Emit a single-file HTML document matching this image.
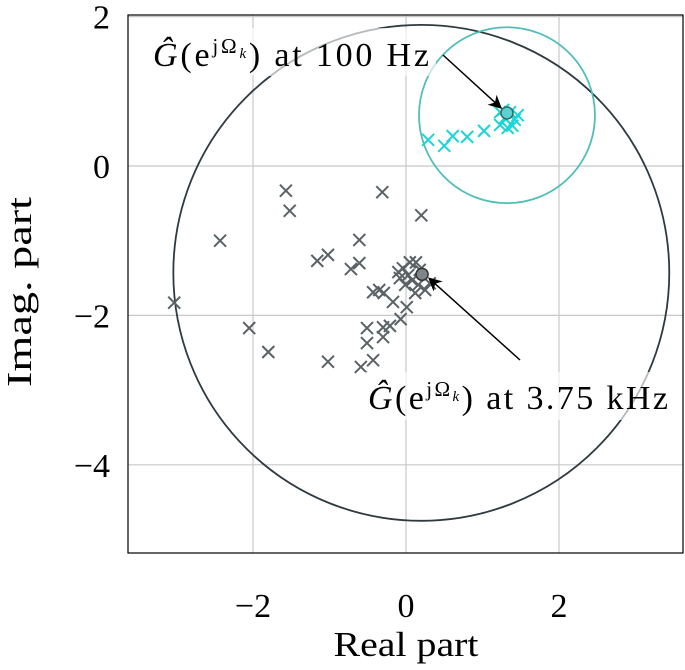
<!DOCTYPE html>
<html><head><meta charset="utf-8"><style>
body{margin:0;background:#fff}
svg text{font-family:"Liberation Serif",serif;fill:#000}
</style></head><body>
<svg id="chart" width="685" height="665" viewBox="0 0 685 665" xmlns="http://www.w3.org/2000/svg">
<g id="grid"></g>
<g id="marks"></g>
<g id="ann"></g>
<rect x="128" y="15" width="555" height="538" fill="none" stroke="#000" stroke-width="1.2"/>
<text x="406" y="656" font-size="35" text-anchor="middle" textLength="145" lengthAdjust="spacingAndGlyphs">Real part</text>
<text x="0" y="0" font-size="35" text-anchor="middle" textLength="190" lengthAdjust="spacingAndGlyphs" transform="translate(31,292) rotate(-90)">Imag. part</text>
</svg>
<script>
const xTicks=[-2,0,2];
const yTicks=[2,0,-2,-4];
const grayRe=[-1.57,-1.52,-0.31,0.20,-2.43,-0.61,-1.02,-1.16,-0.61,-0.72,-3.03,-2.05,-1.80,-1.02,-0.59,-0.43,-0.51,-0.51,-0.30,-0.30,-0.21,-0.07,0.01,-0.17,-0.29,-0.43,-0.35,-0.04,0.05,0.13,0.03,0.08,0.16,-0.08,0.12,0.25,0.31,-0.10,-0.01,0.18];
const grayIm=[-0.33,-0.60,-0.35,-0.66,-1.00,-0.99,-1.19,-1.27,-1.30,-1.38,-1.83,-2.17,-2.49,-2.62,-2.69,-2.60,-2.37,-2.17,-2.16,-2.29,-2.14,-2.05,-1.89,-1.82,-1.70,-1.69,-1.66,-1.37,-1.29,-1.29,-1.46,-1.53,-1.59,-1.50,-1.70,-1.66,-1.57,-1.42,-1.59,-1.39];
const cyanRe=[0.29,0.50,0.61,0.80,1.02,1.23,1.29,1.36,1.42,1.33,1.27,1.39,1.46,1.23];
const cyanIm=[0.35,0.27,0.40,0.39,0.47,0.55,0.64,0.72,0.62,0.51,0.75,0.54,0.68,0.72];
const highPoint=[0.21,-1.45];
const lowPoint=[1.32,0.71];
const bigCircle=[0.20,-1.43,3.28];
const smallCircle=[1.32,0.68,1.15];
const NS='http://www.w3.org/2000/svg';
const X=v=>406+v*76.5, Y=v=>166-v*74.7;
function mk(p,t,a){const e=document.createElementNS(NS,t);for(const k in a)e.setAttribute(k,a[k]);p.appendChild(e);return e;}
const grid=document.getElementById('grid'),marks=document.getElementById('marks'),ann=document.getElementById('ann'),svg=document.getElementById('chart');
xTicks.forEach(t=>{
 const l=mk(grid,'line',{x1:X(t),x2:X(t),y1:15,y2:553,stroke:'#c8c8c8','stroke-width':1.2});
 
 
 const s=mk(svg,'text',{x:X(t),y:617,'font-size':34,'text-anchor':'middle'});s.textContent=(t<0?'\u2212':'')+Math.abs(t);
 
 
});
yTicks.forEach(t=>{
 const l=mk(grid,'line',{x1:128,x2:683,y1:Y(t),y2:Y(t),stroke:'#c8c8c8','stroke-width':1.2});
 
 
 const s=mk(svg,'text',{x:110,y:Y(t)+12,'font-size':34,'text-anchor':'end'});s.textContent=(t<0?'\u2212':'')+Math.abs(t);
 
 
});
const c1=mk(marks,'ellipse',{cx:X(bigCircle[0]),cy:Y(bigCircle[1]),rx:bigCircle[2]*75.6,ry:bigCircle[2]*75.6,fill:'none',stroke:'#2f3a40','stroke-width':1.8});


const c2=mk(marks,'ellipse',{cx:X(smallCircle[0]),cy:Y(smallCircle[1]),rx:smallCircle[2]*76.5,ry:smallCircle[2]*76.5,fill:'none',stroke:'#4fbfb8','stroke-width':1.8});


function cross(x,y,col,name){const d=6;const p=mk(marks,'path',{d:`M${x-d},${y-d}L${x+d},${y+d}M${x-d},${y+d}L${x+d},${y-d}`,stroke:col,'stroke-width':2});
 
 }
grayRe.forEach((r,i)=>cross(X(r),Y(grayIm[i]),'#5a6266','gray-sample'));
cyanRe.forEach((r,i)=>cross(X(r),Y(cyanIm[i]),'#1ad6d6','cyan-sample'));
const d1=mk(marks,'circle',{cx:X(highPoint[0]),cy:Y(highPoint[1]),r:6,fill:'#7f8589',stroke:'#333','stroke-width':1.5});


const d2=mk(marks,'circle',{cx:X(lowPoint[0]),cy:Y(lowPoint[1]),r:6,fill:'#5fcfcf',stroke:'#2f6a6a','stroke-width':1.5});


mk(ann,'defs',{}).innerHTML='<marker id="ah" viewBox="0 0 10 10" refX="9" refY="5" markerWidth="9" markerHeight="9" orient="auto"><path d="M0,0L10,5L0,10L3,5z" fill="#000"/></marker>';
const bg1=mk(ann,'rect',{x:148,y:28,width:288,height:48,fill:'#fff','fill-opacity':0.65});


const bg2=mk(ann,'rect',{x:362,y:372,width:312,height:48,fill:'#fff','fill-opacity':0.65});


const a1=mk(ann,'line',{x1:443,y1:55,x2:X(lowPoint[0])-6,y2:Y(lowPoint[1])-5,stroke:'#000','stroke-width':1.5,'marker-end':'url(#ah)'});


const a2=mk(ann,'line',{x1:520,y1:360,x2:X(highPoint[0])+7,y2:Y(highPoint[1])+4,stroke:'#000','stroke-width':1.5,'marker-end':'url(#ah)'});


</script>
<svg style="position:absolute;left:0;top:0" width="685" height="665">
<text x="153" y="66" font-size="34" font-family="Liberation Serif, serif" textLength="276" lengthAdjust="spacing"><tspan font-style="italic">Ĝ</tspan>(e<tspan font-size="21" dy="-13">jΩ</tspan><tspan font-size="15" font-style="italic" dy="5">k</tspan><tspan dy="8">) at 100 Hz</tspan></text>
<text x="368" y="409" font-size="34" font-family="Liberation Serif, serif" textLength="300" lengthAdjust="spacing"><tspan font-style="italic">Ĝ</tspan>(e<tspan font-size="21" dy="-13">jΩ</tspan><tspan font-size="15" font-style="italic" dy="5">k</tspan><tspan dy="8">) at 3.75 kHz</tspan></text>
</svg>
</body></html>
